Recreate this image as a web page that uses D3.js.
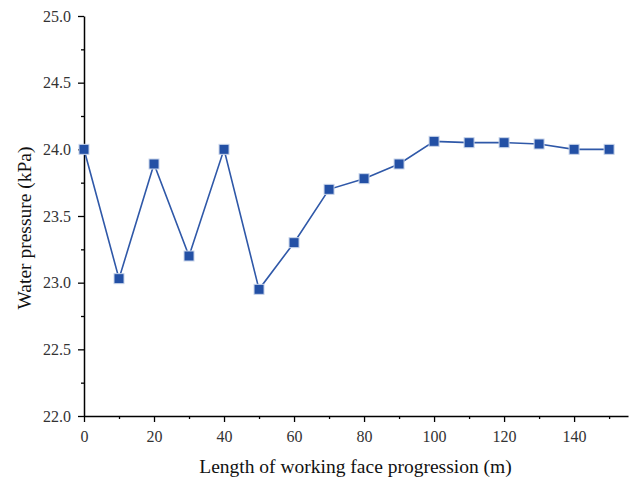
<!DOCTYPE html>
<html><head><meta charset="utf-8">
<script src="https://cdn.jsdelivr.net/npm/d3@7"></script>
<style>body{margin:0;background:#fff}svg{display:block}svg text{font-family:"Liberation Serif","DejaVu Serif",serif !important}</style>
</head><body>
<svg id="c" width="635" height="478"></svg>
<script>
const distances = [0,10,20,30,40,50,60,70,80,90,100,110,120,130,140,150];
const pressures = [24.0,23.03,23.89,23.2,24.0,22.95,23.3,23.7,23.78,23.89,24.06,24.05,24.05,24.04,24.0,24.0];
const xTicks = [0,20,40,60,80,100,120,140];
const xMinor = [10,30,50,70,90,110,130,150];
const yTicks = [22.0,22.5,23.0,23.5,24.0,24.5,25.0];
const yMinor = [22.25,22.75,23.25,23.75,24.25,24.75];
const xLabel = "Length of working face progression (m)";
const yLabel = "Water pressure (kPa)";

const svg = d3.select("#c");
const L = 84, R = 628, T = 16, B = 416;
const x = d3.scaleLinear().domain([0,155.4]).range([L,R]);
const y = d3.scaleLinear().domain([22,25]).range([B,T]);

const xa = svg.append("g").attr("transform",`translate(0,${B})`)
  .call(d3.axisBottom(x).tickValues(xTicks).tickFormat(d3.format("d")).tickSize(6).tickSizeOuter(0));
const xm = svg.append("g").attr("transform",`translate(0,${B})`)
  .call(d3.axisBottom(x).tickValues(xMinor).tickFormat("").tickSize(3).tickSizeOuter(0));
xm.select(".domain").remove();
const ya = svg.append("g").attr("transform",`translate(${L},0)`)
  .call(d3.axisLeft(y).tickValues(yTicks).tickFormat(d3.format(".1f")).tickSize(6).tickSizeOuter(0));
const ym = svg.append("g").attr("transform",`translate(${L},0)`)
  .call(d3.axisLeft(y).tickValues(yMinor).tickFormat("").tickSize(3).tickSizeOuter(0));
ym.select(".domain").remove();

svg.selectAll(".domain").attr("stroke","#000").attr("stroke-width",1.5);
svg.selectAll(".tick line").attr("stroke","#000").attr("stroke-width",1.3);
svg.selectAll(".tick text").attr("font-size",16).attr("fill","#333");
xa.selectAll(".tick text").attr("dy","1.05em");
ya.selectAll(".tick text").attr("x",-13);

const line = d3.line().x((d,i)=>x(distances[i])).y(d=>y(d));
svg.append("path").datum(pressures).attr("d",line)
  .attr("fill","none").attr("stroke","#2f58a8").attr("stroke-width",1.6);
svg.selectAll("rect.m").data(pressures).enter().append("rect").attr("class","m")
  .attr("x",(d,i)=>x(distances[i])-5).attr("y",d=>y(d)-5)
  .attr("width",10).attr("height",10)
  .attr("fill","#2350a5").attr("stroke","#c8d4ea").attr("stroke-width",1);

svg.append("text").attr("x",355.5).attr("y",473).attr("text-anchor","middle")
  .attr("font-size",19.5).attr("fill","#111").text(xLabel);
svg.append("text").attr("transform","translate(31,228) rotate(-90)").attr("text-anchor","middle")
  .attr("font-size",19.5).attr("fill","#111").text(yLabel);
</script>
</body></html>
